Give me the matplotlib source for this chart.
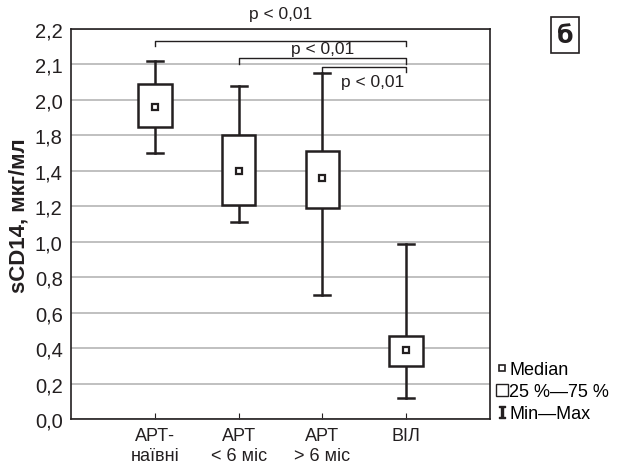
import matplotlib.pyplot as plt
from matplotlib.lines import Line2D
from matplotlib.patches import Rectangle

plt.rcParams['font.family'] = ['Liberation Sans', 'DejaVu Sans']

# data (in axis units, tick positions 0..2.2 step 0.2)
groups = ['АРТ-\nнаївні', 'АРТ\n< 6 міс', 'АРТ\n> 6 міс', 'ВІЛ']
mins = [1.50, 1.11, 0.70, 0.12]
q25 = [1.65, 1.21, 1.19, 0.30]
medians = [1.76, 1.40, 1.36, 0.39]
q75 = [1.89, 1.60, 1.51, 0.47]
maxs = [2.02, 1.88, 1.95, 0.99]

ytick_vals = [0.0, 0.2, 0.4, 0.6, 0.8, 1.0, 1.2, 1.4, 1.6, 1.8, 2.0, 2.2]
ytick_labels = ['0,0', '0,2', '0,4', '0,6', '0,8', '1,0', '1,2', '1,4', '1,8', '2,0', '2,1', '2,2']

# brackets: (from group, to group, height, label, label height)
brackets = [(1, 4, 2.134, 'p < 0,01', 2.285),
            (2, 4, 2.034, 'p < 0,01', 2.090),
            (3, 4, 1.985, 'p < 0,01', 1.905)]

dark = '#231f20'
fig = plt.figure(figsize=(6.24, 4.64), dpi=100)
ax = fig.add_axes([0.1138, 0.0948, 0.6715, 0.8405])

xs = [1, 2, 3, 4]
box_w = 0.40
cap_w = 0.19
for x, lo, a, m, b, hi in zip(xs, mins, q25, medians, q75, maxs):
    ax.plot([x, x], [lo, a], color=dark, lw=1.8, zorder=3)
    ax.plot([x, x], [b, hi], color=dark, lw=1.8, zorder=3)
    ax.plot([x - cap_w / 2, x + cap_w / 2], [lo, lo], color=dark, lw=1.8, zorder=3)
    ax.plot([x - cap_w / 2, x + cap_w / 2], [hi, hi], color=dark, lw=1.8, zorder=3)
    ax.add_patch(Rectangle((x - box_w / 2, a), box_w, b - a, facecolor='white',
                           edgecolor=dark, lw=1.8, zorder=4))
    ax.plot(x, m, marker='s', markersize=5, markerfacecolor='white',
            markeredgecolor=dark, markeredgewidth=1.6, zorder=5)

for g1, g2, h, lab, lh in brackets:
    d = 0.03
    ax.plot([g1, g1, g2, g2], [h - d, h, h, h - d], color=dark, lw=1.0,
            clip_on=False, zorder=6)
    ax.text((g1 + g2) / 2 + (0.1 if g1 == 3 else 0), lh, lab, ha='center', va='center',
            fontsize=12.5, color=dark, clip_on=False)

ax.set_xlim(0, 5)
ax.set_ylim(0, 2.2)
ax.set_xticks(xs)
ax.set_xticklabels(groups, fontsize=13, color=dark, linespacing=1.2)
ax.set_yticks(ytick_vals)
ax.set_yticklabels(ytick_labels, fontsize=14.5, color=dark)
ax.tick_params(axis='x', direction='in', length=4, color=dark, pad=6)
ax.tick_params(axis='y', length=0, pad=6)
ax.grid(axis='y', color='#b5b5b5', lw=1.2)
ax.set_axisbelow(True)
for s in ax.spines.values():
    s.set_color(dark)
    s.set_linewidth(1.2)
ax.set_ylabel('sCD14, мкг/мл', fontsize=16, fontweight='bold', color=dark)
ax.yaxis.set_label_coords(-0.10, 0.523)

handles = [
    Line2D([], [], ls='none', marker='s', markersize=5, markerfacecolor='white',
           markeredgecolor=dark, markeredgewidth=1.2),
    Line2D([], [], ls='none', marker='s', markersize=9, markerfacecolor='white',
           markeredgecolor=dark, markeredgewidth=1.0),
    Line2D([], [], ls='none', marker=r'$\mathtt{I}$', markersize=9, color=dark),
]
ax.legend(handles, ['Median', '25 %—75 %', 'Min—Max'], loc='lower left',
          bbox_to_anchor=(0.985, -0.04), frameon=False, fontsize=13,
          handlelength=0.6, handletextpad=0.1, labelspacing=0.28, borderpad=0.2)

fig.text(0.9055, 0.923, 'б', fontsize=17, fontweight='bold', family='DejaVu Sans',
         ha='center', va='center', color=dark,
         bbox=dict(boxstyle='square,pad=0.25', facecolor='white', edgecolor=dark, lw=1.2))

fig.savefig('out.png', dpi=100)
